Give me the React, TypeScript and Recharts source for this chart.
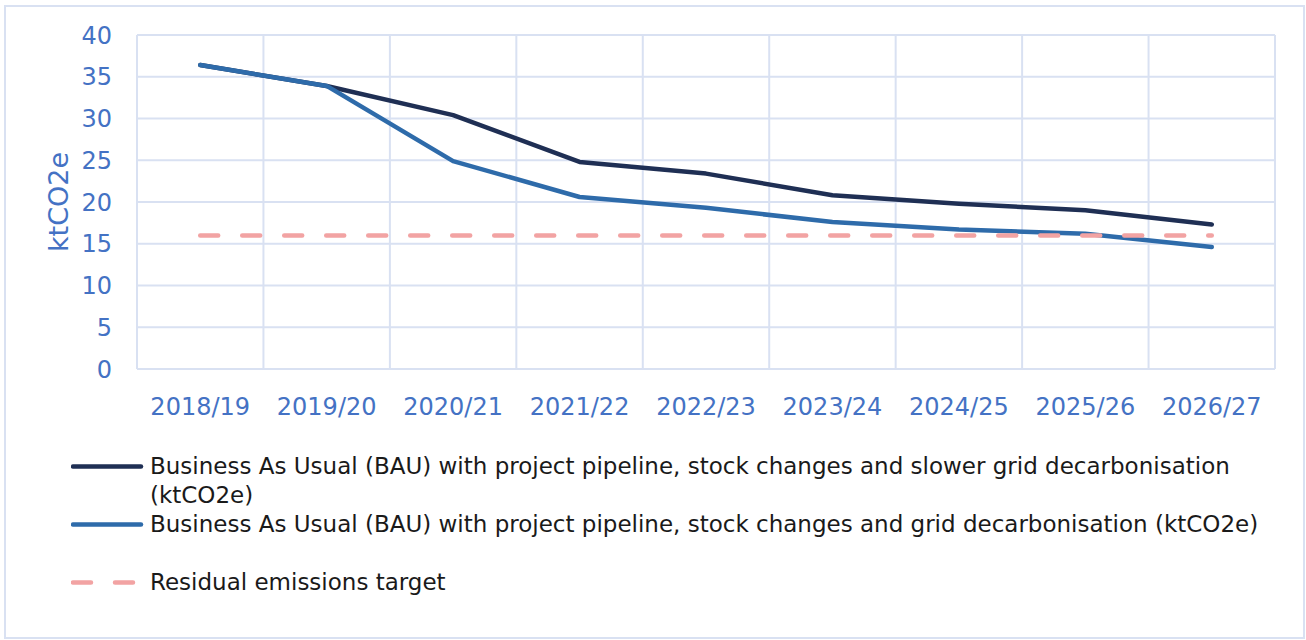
import React from "react";
import {
  CartesianGrid,
  Legend,
  Line,
  LineChart,
  XAxis,
  YAxis,
} from "recharts";

const categories = [
  "2018/19",
  "2019/20",
  "2020/21",
  "2021/22",
  "2022/23",
  "2023/24",
  "2024/25",
  "2025/26",
  "2026/27",
];
const bauSlowerGrid = [36.4, 33.9, 30.4, 24.8, 23.4, 20.8, 19.8, 19.0, 17.3];
const bauGrid = [36.4, 33.9, 24.9, 20.6, 19.3, 17.6, 16.7, 16.2, 14.6];
const residualTarget = [16, 16, 16, 16, 16, 16, 16, 16, 16];
const yTicks = [0, 5, 10, 15, 20, 25, 30, 35, 40];

const NAMES = {
  slower:
    "Business As Usual (BAU) with project pipeline, stock changes and slower grid decarbonisation (ktCO2e)",
  grid: "Business As Usual (BAU) with project pipeline, stock changes and grid decarbonisation (ktCO2e)",
  target: "Residual emissions target",
};
const LEGEND_ORDER = ["slower", "grid", "target"];

const COLORS = {
  slower: "#1F2F54",
  grid: "#2E6BAA",
  target: "#F2A3A3",
  grid_lines: "#D9E1F2",
  tick: "#4472C4",
  text: "#1A1A1A",
};

const FONT = "'DejaVu Sans', sans-serif";
const DASH = "18 24";

const data = categories.map((label, i) => ({
  label,
  slower: bauSlowerGrid[i],
  grid: bauGrid[i],
  target: residualTarget[i],
}));

function LegendContent(props: any) {
  const items = [...(props.payload || [])].sort(
    (a: any, b: any) => LEGEND_ORDER.indexOf(a.dataKey) - LEGEND_ORDER.indexOf(b.dataKey)
  );
  return (
    <div style={{ fontFamily: FONT, fontSize: 23, color: COLORS.text }}>
      {items.map((it: any) => (
        <div
          key={it.dataKey}
          style={{ display: "flex", alignItems: "flex-start", height: 58 }}
        >
          <svg width={79} height={29} style={{ flex: "none" }}>
            <line
              x1={2}
              x2={70}
              y1={14.5}
              y2={14.5}
              stroke={it.color}
              strokeWidth={4.5}
              strokeLinecap="round"
              strokeDasharray={it.dataKey === "target" ? DASH : undefined}
            />
          </svg>
          <div style={{ lineHeight: "29px", width: 1150 }}>{it.value}</div>
        </div>
      ))}
    </div>
  );
}

export default function App() {
  return (
    <div style={{ position: "relative", width: 1306, height: 640, background: "#fff" }}>
      <style>{"body{margin:0}"}</style>
      <div
        style={{
          position: "absolute",
          left: 4,
          top: 5,
          width: 1301,
          height: 634,
          border: `2px solid ${COLORS.grid_lines}`,
          boxSizing: "border-box",
        }}
      />
      <LineChart
        width={1306}
        height={640}
        data={data}
        margin={{ top: 35, right: 31, left: 0, bottom: 241 }}
      >
        <CartesianGrid
          stroke={COLORS.grid_lines}
          strokeWidth={2}
          verticalCoordinatesGenerator={({ offset }: any) =>
            categories
              .concat([""])
              .map((_, i) => offset.left + (i * offset.width) / categories.length)
          }
        />
        <XAxis
          dataKey="label"
          scale="band"
          axisLine={false}
          tickLine={false}
          tickSize={0}
          tickMargin={29}
          interval={0}
          tick={{ fill: COLORS.tick, fontSize: 24, fontFamily: FONT }}
        />
        <YAxis
          domain={[0, 40]}
          ticks={yTicks}
          width={137}
          axisLine={false}
          tickLine={false}
          tickSize={0}
          tickMargin={25}
          tick={{ fill: COLORS.tick, fontSize: 24, fontFamily: FONT }}
          label={{
            value: "ktCO2e",
            angle: -90,
            position: "center",
            dx: -10,
            dy: 0,
            fill: COLORS.tick,
            fontSize: 27,
            fontFamily: FONT,
          }}
        />
        <Legend
          layout="horizontal"
          verticalAlign="middle"
          align="center"
          content={<LegendContent />}
          wrapperStyle={{ position: "absolute", left: 71, top: 452, width: 1230 }}
        />
        <Line
          dataKey="slower"
          name={NAMES.slower}
          stroke={COLORS.slower}
          strokeWidth={4.5}
          strokeLinecap="round"
          strokeLinejoin="round"
          dot={false}
          activeDot={false}
          isAnimationActive={false}
        />
        <Line
          dataKey="grid"
          name={NAMES.grid}
          stroke={COLORS.grid}
          strokeWidth={4.5}
          strokeLinecap="round"
          strokeLinejoin="round"
          dot={false}
          activeDot={false}
          isAnimationActive={false}
        />
        <Line
          dataKey="target"
          name={NAMES.target}
          stroke={COLORS.target}
          strokeWidth={4.5}
          strokeLinecap="round"
          strokeDasharray={DASH}
          dot={false}
          activeDot={false}
          isAnimationActive={false}
        />
      </LineChart>
    </div>
  );
}
